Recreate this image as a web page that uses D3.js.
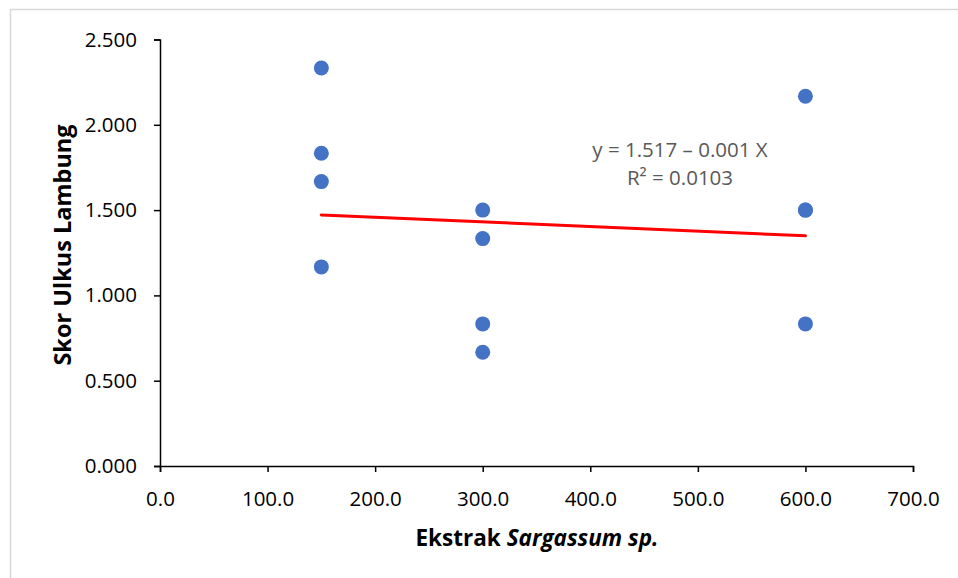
<!DOCTYPE html>
<html>
<head>
<meta charset="utf-8">
<script src="https://cdn.jsdelivr.net/npm/d3@7/dist/d3.min.js"></script>
<style>
  html, body { margin: 0; padding: 0; background: #fff; }
  svg { display: block; }
</style>
</head>
<body>
<svg id="chart" width="958" height="578"></svg>
<script>
// ---- Data ----
const doseX = [150, 150, 150, 150, 300, 300, 300, 300, 600, 600, 600, 600];
const scoreY = [2.333, 1.833, 1.667, 1.167, 1.5, 1.333, 0.833, 0.667, 2.167, 1.5, 1.5, 0.833];
const trendX = [150, 600];
const trendY = [1.472, 1.349];
const xTicks = [0, 100, 200, 300, 400, 500, 600, 700];
const yTicks = [0, 0.5, 1.0, 1.5, 2.0, 2.5];
const equationLines = ["y = 1.517 \u2013 0.001 X", "R\u00B2 = 0.0103"];

// ---- Layout ----
const svg = d3.select("#chart");
const font = "'Open Sans', Lato, sans-serif";
const plotLeft = 160, plotRight = 913, plotTop = 39.5, plotBottom = 466;

svg.append("rect")
  .attr("x", 10.5).attr("y", 9.5)
  .attr("width", 1000).attr("height", 1000)
  .attr("fill", "#fff").attr("stroke", "#d9d9d9").attr("stroke-width", 1.5);

const x = d3.scaleLinear().domain([0, 700]).range([plotLeft, plotRight]);
const y = d3.scaleLinear().domain([0, 2.5]).range([plotBottom, plotTop]);

// Y axis
const yAxis = svg.append("g")
  .attr("transform", `translate(${plotLeft},0)`)
  .call(d3.axisLeft(y).tickValues(yTicks).tickSize(6).tickPadding(17)
    .tickFormat(d3.format(".3f")));
// X axis
const xAxis = svg.append("g")
  .attr("transform", `translate(0,${plotBottom})`)
  .call(d3.axisBottom(x).tickValues(xTicks).tickSize(6).tickPadding(19)
    .tickFormat(d3.format(".1f")));

[xAxis, yAxis].forEach(g => {
  g.select(".domain").attr("stroke", "#000").attr("stroke-width", 1.5);
  g.selectAll(".tick line").attr("stroke", "#000").attr("stroke-width", 1.5);
  g.selectAll(".tick text").attr("fill", "#000")
    .style("font-family", font).style("font-size", "20.5px");
});

// Points
svg.append("g").selectAll("circle")
  .data(doseX.map((d, i) => [d, scoreY[i]]))
  .join("circle")
  .attr("cx", d => x(d[0]))
  .attr("cy", d => y(d[1]))
  .attr("r", 7.5)
  .attr("fill", "#4472C4");

// Trend line
svg.append("path")
  .datum(trendX.map((d, i) => [d, trendY[i]]))
  .attr("d", d3.line().x(d => x(d[0])).y(d => y(d[1])))
  .attr("stroke", "#ff0000").attr("stroke-width", 3)
  .attr("stroke-linecap", "round").attr("fill", "none");

// Equation
svg.append("g").selectAll("text")
  .data(equationLines)
  .join("text")
  .attr("x", 680)
  .attr("y", (d, i) => 157 + i * 28)
  .attr("text-anchor", "middle")
  .attr("fill", "#595959")
  .style("font-family", font).style("font-size", "20.5px")
  .text(d => d);

// Axis titles
const xt = svg.append("text")
  .attr("x", 537).attr("y", 546)
  .attr("text-anchor", "middle")
  .style("font-family", font).style("font-size", "22.5px").style("font-weight", "bold");
xt.append("tspan").text("Ekstrak ");
xt.append("tspan").style("font-style", "italic").text("Sargassum sp.");

svg.append("text")
  .attr("transform", "translate(71,245) rotate(-90)")
  .attr("text-anchor", "middle")
  .style("font-family", font).style("font-size", "23.5px").style("font-weight", "bold")
  .text("Skor Ulkus Lambung");
</script>
</body>
</html>
